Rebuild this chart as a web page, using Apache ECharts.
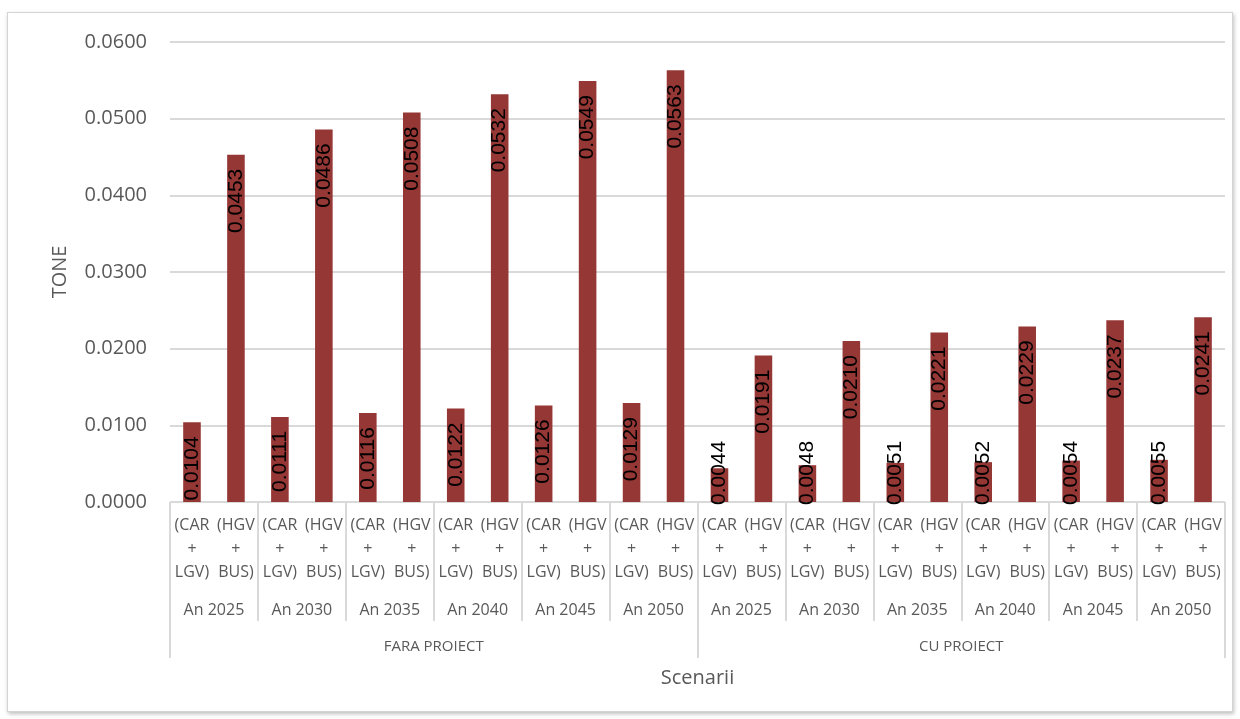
<!DOCTYPE html>
<html>
<head>
<meta charset="utf-8">
<script src="https://cdn.jsdelivr.net/npm/echarts@6/dist/echarts.min.js"></script>
<style>
  html, body { margin: 0; padding: 0; background: #fff; }
  #chart { width: 1240px; height: 719px; }
  #frame {
    position: absolute; left: 7px; top: 12px; width: 1224px; height: 698px;
    border: 1px solid #d4d4d4; box-shadow: 1px 2px 4px rgba(0,0,0,0.25);
    pointer-events: none;
  }
</style>
</head>
<body>
<div id="chart"></div>
<div id="frame"></div>
<script>
// vehicle groups (level 1), years (level 2), scenarios (level 3)
const vehicleLabels = ['(CAR\n+\nLGV)', '(HGV\n+\nBUS)']
const years = ['An 2025', 'An 2030', 'An 2035', 'An 2040', 'An 2045', 'An 2050']
const scenarios = ['FARA PROIECT', 'CU PROIECT']

// tonnes per category, in axis order
const faraProiect = [0.0104, 0.0453, 0.0111, 0.0486, 0.0116, 0.0508, 0.0122, 0.0532, 0.0126, 0.0549, 0.0129, 0.0563]
const cuProiect = [0.0044, 0.0191, 0.0048, 0.0210, 0.0051, 0.0221, 0.0052, 0.0229, 0.0054, 0.0237, 0.0055, 0.0241]

const barColor = '#953735'
const textColor = '#595959'
const lineColor = '#d9d9d9'
const font = 'Open Sans'

const categories = []
const yearAxis = []
scenarios.forEach(() => {
  years.forEach((y) => {
    yearAxis.push(y)
    vehicleLabels.forEach((v) => categories.push(v))
  })
})
const values = faraProiect.concat(cuProiect)

// short bars get their label placed from the base, like the source chart
const barData = values.map((v) => {
  if (v < 0.009) {
    return {
      value: v,
      label: { position: 'insideBottom', align: 'left', distance: -3 }
    }
  }
  return v
})

const chart = echarts.init(document.getElementById('chart'))
chart.setOption({
  animation: false,
  grid: { left: 170, right: 15, top: 42, bottom: 217 },
  xAxis: [
    {
      type: 'category',
      position: 'bottom',
      data: categories,
      name: 'Scenarii',
      nameLocation: 'middle',
      nameGap: 166,
      nameTextStyle: { color: textColor, fontSize: 20, fontFamily: font },
      axisLine: { show: false },
      axisTick: { show: false },
      axisLabel: {
        interval: 0, margin: 12, color: textColor, fontSize: 16,
        fontFamily: font, lineHeight: 23.5
      }
    },
    {
      type: 'category',
      position: 'bottom',
      data: yearAxis,
      axisLine: { show: true, lineStyle: { color: lineColor, width: 1 } },
      axisTick: { show: true, interval: 0, length: 119, lineStyle: { color: lineColor, width: 2 } },
      axisLabel: {
        interval: 0, margin: 98, color: textColor, fontSize: 16,
        fontFamily: font, lineHeight: 20
      }
    },
    {
      type: 'category',
      position: 'bottom',
      data: scenarios,
      axisLine: { show: false },
      axisTick: { show: true, interval: 0, length: 156, lineStyle: { color: lineColor, width: 2 } },
      axisLabel: {
        interval: 0, margin: 135, color: textColor, fontSize: 15,
        fontFamily: font, lineHeight: 20
      }
    }
  ],
  yAxis: {
    type: 'value',
    min: 0,
    max: 0.06,
    interval: 0.01,
    name: 'TONE',
    nameLocation: 'middle',
    nameGap: 100,
    nameTextStyle: { color: textColor, fontSize: 20, fontFamily: font },
    axisLine: { show: false },
    axisTick: { show: false },
    axisLabel: {
      margin: 23, color: textColor, fontSize: 20, fontFamily: font,
      formatter: (v) => v.toFixed(4)
    },
    splitLine: { lineStyle: { color: lineColor, width: 2 } }
  },
  series: [
    {
      type: 'bar',
      xAxisIndex: 0,
      data: barData,
      barWidth: '40%',
      itemStyle: { color: barColor },
      label: {
        show: true,
        position: 'insideTop',
        rotate: 90,
        align: 'right',
        verticalAlign: 'middle',
        distance: 14,
        color: '#000',
        fontSize: 21,
        fontFamily: 'Liberation Sans',
        formatter: (p) => p.value.toFixed(4)
      }
    }
  ]
})
</script>
</body>
</html>
